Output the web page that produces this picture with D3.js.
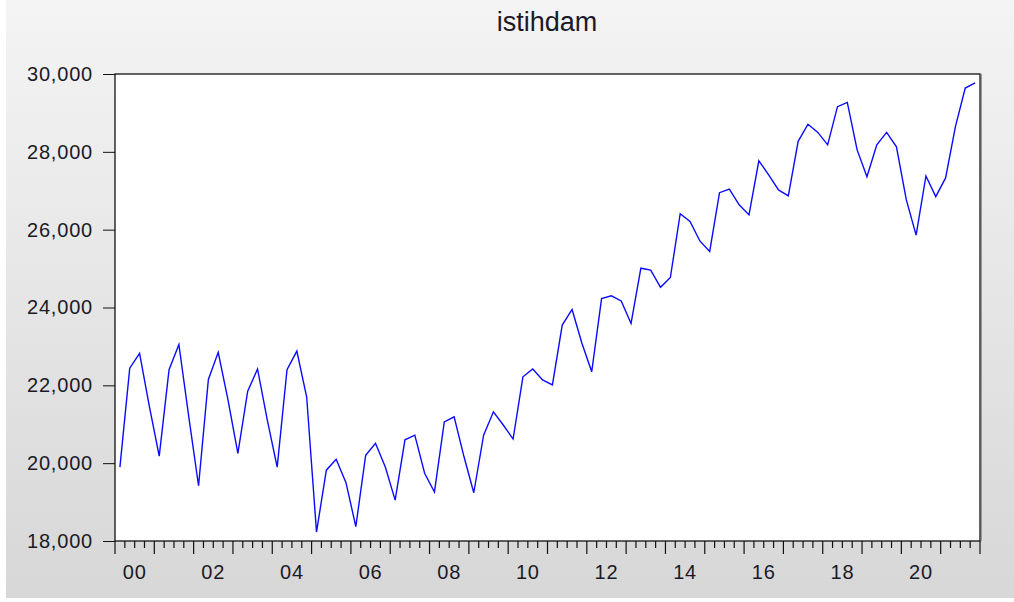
<!DOCTYPE html>
<html>
<head>
<meta charset="utf-8">
<script src="https://cdn.jsdelivr.net/npm/d3@7"></script>
<style>
  body { margin: 0; background: #fff; }
  svg text { font-family: "Liberation Sans", Arial, sans-serif; fill: #1a1a26; }
</style>
</head>
<body>
<svg width="1014" height="602"></svg>
<script>
// quarterly series, 2000Q1 .. 2021Q4
var years = d3.range(2000, 2022);
var quarters = ["Q1", "Q2", "Q3", "Q4"];
var values = [
  19900, 22440, 22820, 21450,
  20180, 22400, 23050, 21200,
  19420, 22150, 22850, 21620,
  20250, 21850, 22420, 21100,
  19900, 22400, 22880, 21700,
  18230, 19820, 20100, 19500,
  18370, 20200, 20510, 19900,
  19050, 20600, 20720, 19740,
  19260, 21060, 21190, 20170,
  19240, 20720, 21320, 20980,
  20620, 22220, 22420, 22140,
  22010, 23550, 23950, 23080,
  22350, 24230, 24300, 24170,
  23590, 25010, 24960, 24520,
  24770, 26410, 26210, 25710,
  25440, 26950, 27040, 26640,
  26380, 27770, 27410, 27020,
  26870, 28270, 28710, 28500,
  28180, 29160, 29270, 28050,
  27360, 28180, 28500, 28130,
  26770, 25860, 27380, 26850,
  27330, 28650, 29640, 29770
];
var yTicks = [18000, 20000, 22000, 24000, 26000, 28000, 30000];
var xLabels = ["00", "02", "04", "06", "08", "10", "12", "14", "16", "18", "20"];
var title = "istihdam";

var svg = d3.select("svg");
var width = +svg.attr("width");
var height = +svg.attr("height");
var padding = { top: 74, bottom: 61, left: 115, right: 34 };
var canvasWidth = width - padding.left - padding.right;
var canvasHeight = height - padding.top - padding.bottom;

var data = values.map(function (v, i) {
  return { year: years[Math.floor(i / 4)], q: quarters[i % 4], value: v };
});

// background panel
var grad = svg.append("defs").append("linearGradient")
  .attr("id", "bg").attr("x1", 0).attr("y1", 0).attr("x2", 0).attr("y2", 1);
grad.append("stop").attr("offset", "0%").attr("stop-color", "#f4f4f4");
grad.append("stop").attr("offset", "100%").attr("stop-color", "#d7d7d7");
svg.append("rect")
  .attr("x", 6).attr("y", 0)
  .attr("width", width - 6).attr("height", 598)
  .style("fill", "url(#bg)");

var canvas = svg.append("g")
  .attr("transform", "translate(" + padding.left + "," + padding.top + ")");

canvas.append("rect")
  .attr("width", canvasWidth).attr("height", canvasHeight)
  .style("fill", "#fff");

var x = d3.scaleLinear().domain([0, values.length]).range([0, canvasWidth]);
var y = d3.scaleLinear().domain([18000, 30000]).range([canvasHeight, 0]);

var line = d3.line()
  .x(function (d, i) { return x(i + 0.5); })
  .y(function (d) { return y(d.value); });

canvas.append("path")
  .datum(data)
  .attr("d", line)
  .style("fill", "none")
  .style("stroke", "#0a0aff")
  .style("stroke-width", 1.4);

// frame
canvas.append("line")
  .attr("x1", canvasWidth + 1.5).attr("x2", canvasWidth + 1.5)
  .attr("y1", 0).attr("y2", canvasHeight)
  .style("stroke", "#999").style("stroke-width", 1);
canvas.append("rect")
  .attr("width", canvasWidth).attr("height", canvasHeight)
  .style("fill", "none").style("stroke", "#111").style("stroke-width", 1.3);

// y axis
var yAxis = d3.axisLeft(y)
  .tickValues(yTicks)
  .tickFormat(d3.format(","))
  .tickSize(12)
  .tickPadding(10);
var gY = canvas.append("g").call(yAxis);
gY.select(".domain").remove();
gY.selectAll("line").style("stroke", "#111");
gY.selectAll("text")
  .style("font-size", "20px")
  .style("letter-spacing", "0.8px")
  .style("fill", "#1a1a26");

// x axis: quarter ticks, long at each year
var gX = canvas.append("g")
  .attr("transform", "translate(0," + canvasHeight + ")");
gX.selectAll("line.tick")
  .data(d3.range(0, values.length + 1))
  .enter()
  .append("line")
  .attr("x1", function (d) { return x(d); })
  .attr("x2", function (d) { return x(d); })
  .attr("y1", 0)
  .attr("y2", function (d) { return d % 4 === 0 ? 13 : 7; })
  .style("stroke", "#111")
  .style("stroke-width", 1.2);
gX.selectAll("text.lab")
  .data(xLabels)
  .enter()
  .append("text")
  .attr("x", function (d, i) { return x(i * 8 + 2); })
  .attr("y", 38)
  .attr("text-anchor", "middle")
  .style("font-size", "20px")
  .style("letter-spacing", "0.8px")
  .text(function (d) { return d; });

svg.append("text")
  .attr("x", 547)
  .attr("y", 31)
  .attr("text-anchor", "middle")
  .style("font-size", "27px")
  .text(title);
</script>
</body>
</html>
